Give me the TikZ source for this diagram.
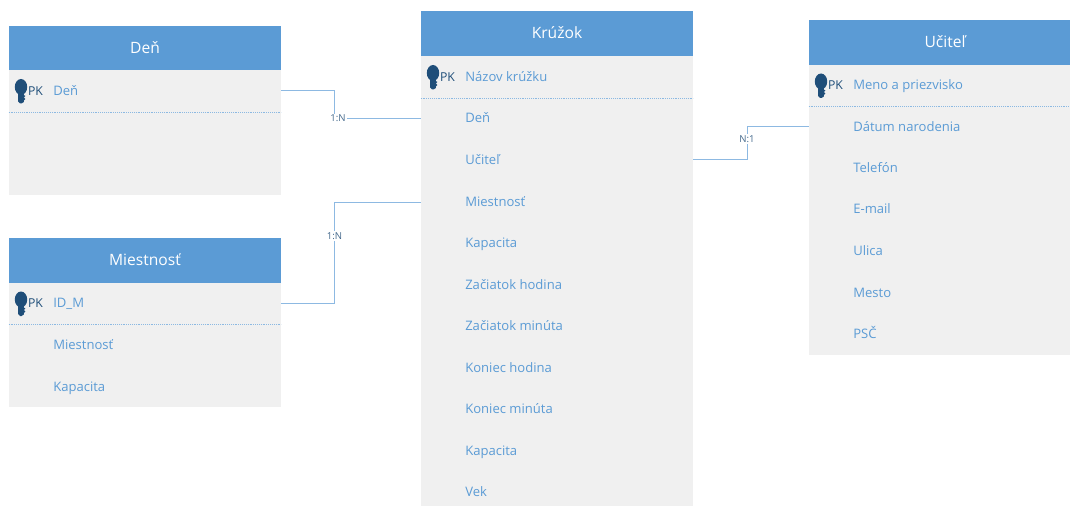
\documentclass[tikz,border=0pt]{standalone}
\usepackage{fontspec}
\setmainfont{Open Sans}
\definecolor{hdr}{HTML}{5B9BD5}
\definecolor{bodyc}{HTML}{F0F0F0}
\definecolor{keyc}{HTML}{1F4E79}
\definecolor{linec}{HTML}{8DB9E2}
\definecolor{lblc}{HTML}{44698C}
\tikzset{
  headbox/.style={draw=none,fill=hdr,text=white,inner sep=0pt,text height=9.8pt,text depth=2pt,font=\fontsize{11.7}{13}\selectfont},
  bodybox/.style={draw=none,fill=bodyc,inner sep=0pt},
  rowband/.style={draw=none,inner sep=0pt,minimum height=20pt},
  rowtext/.style={anchor=west,text=hdr,inner sep=0pt,text height=8.5pt,text depth=2pt,font=\fontsize{9.8}{11}\selectfont},
  pktext/.style={anchor=center,text=keyc,inner sep=0pt,text height=8.5pt,text depth=2pt,font=\fontsize{9.2}{11}\selectfont},
  sep/.style={draw=hdr!70,line width=0.45pt,dash pattern=on 0.7pt off 0.7pt},
  conn/.style={draw=linec,line width=0.75pt},
  lbl/.style={fill=white,text=lblc,inner sep=1pt,font=\fontsize{7.2}{8}\selectfont},
  keypic/.pic={
    \fill[keyc] (0,-4) ellipse [x radius=6.2,y radius=8];
    \fill[keyc] (-2.8,0) -- (2.8,0) -- (2.8,4) -- (4.4,5) -- (2.8,6.5) -- (4.4,8) -- (2.8,9.5) -- (2.8,11) -- (0.5,12.5) -- (-1,12.5) -- (-2.8,10.5) -- cycle;
  }
}
% #1 name, #2 left x, #3 right x, #4 header top, #5 header bottom, #6 body bottom, #7 title
\newcommand{\tablebox}[7]{%
  \node[bodybox,minimum width=#3pt*0.75-#2pt*0.75,minimum height=#6pt*0.75-#5pt*0.75] (#1body) at ({(#2+#3)/2},{(#5+#6)/2}) {};
  \node[headbox,minimum width=#3pt*0.75-#2pt*0.75,minimum height=#5pt*0.75-#4pt*0.75] (#1head) at ({(#2+#3)/2},{(#4+#5)/2}) {#7};
}
% #1 name, #2 left x, #3 width, #4 y, #5 text
\newcommand{\rowitem}[5]{%
  \node[rowband,minimum width=#3pt*0.75] (#1) at ({#2+#3/2},#4) {};
  \node[rowtext] (#1t) at ({#2+44},#4) {#5};
}
% #1 name, #2 left x, #3 y
\newcommand{\pkmark}[3]{%
  \pic at ({#2+12},#3) {keypic};
  \node[pktext] (#1pk) at ({#2+26.5},#3) {PK};
}
\begin{document}
\begin{tikzpicture}[x=0.75pt,y=-0.75pt]
\useasboundingbox (0,0) rectangle (1070,506);

% Deň
\tablebox{den}{9}{281}{26}{70.5}{195}{Deň}
\pkmark{den}{9}{91}
\rowitem{den1}{9}{272}{91}{Deň}
\draw[sep] (den1.west |- 0,112.5) -- (den1.east |- 0,112.5);

% Miestnosť
\tablebox{mie}{9}{281}{238}{283}{407}{Miestnosť}
\pkmark{mie}{9}{303.5}
\rowitem{mie1}{9}{272}{303.5}{ID\_M}
\draw[sep] (mie1.west |- 0,324.5) -- (mie1.east |- 0,324.5);
\rowitem{mie2}{9}{272}{345}{Miestnosť}
\rowitem{mie3}{9}{272}{387}{Kapacita}

% Krúžok
\tablebox{kru}{421}{693}{11}{56}{506}{Krúžok}
\pkmark{kru}{421}{77}
\rowitem{kru1}{421}{272}{77}{Názov krúžku}
\draw[sep] (kru1.west |- 0,98.5) -- (kru1.east |- 0,98.5);
\rowitem{kru2}{421}{272}{118.5}{Deň}
\rowitem{kru3}{421}{272}{160}{Učiteľ}
\rowitem{kru4}{421}{272}{202}{Miestnosť}
\rowitem{kru5}{421}{272}{243}{Kapacita}
\rowitem{kru6}{421}{272}{285}{Začiatok hodina}
\rowitem{kru7}{421}{272}{326.5}{Začiatok minúta}
\rowitem{kru8}{421}{272}{368}{Koniec hodina}
\rowitem{kru9}{421}{272}{409}{Koniec minúta}
\rowitem{kru10}{421}{272}{451}{Kapacita}
\rowitem{kru11}{421}{272}{492}{Vek}

% Učiteľ
\tablebox{uci}{809}{1070}{20}{65}{355}{\hspace*{8.25pt}Učiteľ}
\pkmark{uci}{809}{85.5}
\rowitem{uci1}{809}{261}{85.5}{Meno a priezvisko}
\draw[sep] (uci1.west |- 0,106.5) -- (uci1.east |- 0,106.5);
\rowitem{uci2}{809}{261}{127}{Dátum narodenia}
\rowitem{uci3}{809}{261}{168}{Telefón}
\rowitem{uci4}{809}{261}{209.5}{E-mail}
\rowitem{uci5}{809}{261}{251}{Ulica}
\rowitem{uci6}{809}{261}{293}{Mesto}
\rowitem{uci7}{809}{261}{334}{PSČ}

% Connectors
\coordinate (b1) at (334.5,91);
\coordinate (b2) at (334.5,303.5);
\coordinate (b3) at (747,160);
\draw[conn] (den1.east) -- (b1) |- (kru2.west);
\draw[conn] (mie1.east) -- (b2) |- (kru4.west);
\draw[conn] (kru3.east) -- (b3) |- (uci2.west);
\node[lbl] (l1) at (338,118.5) {1:N};
\node[lbl] (l2) at (334.5,236) {1:N};
\node[lbl] (l3) at (747,139) {N:1};
\end{tikzpicture}
\end{document}
